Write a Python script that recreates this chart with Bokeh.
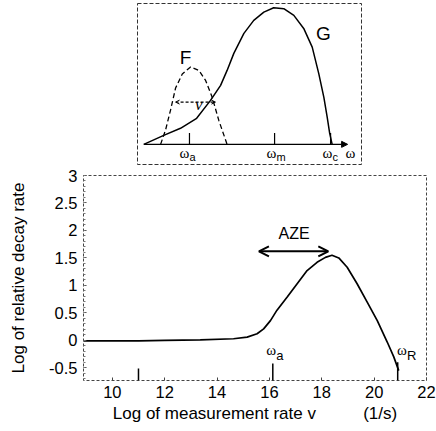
from bokeh.plotting import figure
from bokeh.models import Range1d, FixedTicker, Arrow, OpenHead, NormalHead
from bokeh.core.properties import value
from bokeh.embed import file_html
from bokeh.resources import INLINE

# ---------------- data: main plot ----------------
main_x = [8.9, 10.0, 11.0, 12.0, 13.36, 14.63, 15.15, 15.53, 15.78, 16.04, 16.29, 16.68,
          17.06, 17.44, 17.82, 18.14, 18.39, 18.65, 18.97, 19.35, 19.73, 20.12, 20.5, 20.75, 20.94]
main_y = [-0.01, -0.01, -0.01, 0.0, 0.01, 0.03, 0.06, 0.12, 0.21, 0.36, 0.55, 0.79,
          1.03, 1.27, 1.42, 1.51, 1.55, 1.5, 1.33, 1.03, 0.7, 0.36, -0.03, -0.3, -0.55]
x_ticks = [10, 12, 14, 16, 18, 20, 22]
y_ticks = [-0.5, 0, 0.5, 1, 1.5, 2, 2.5, 3]
y_tick_labels = ["-0.5", "0", "0.5", "1", "1.5", "2", "2.5", "3"]
mark_x = [11.0, 16.13, 20.9]
mark_top = [-0.51, -0.42, -0.4]
omega_main_x = [16.07, 21.06]
omega_main_y = [-0.18, -0.18]
omega_main_sub = ["a", "R"]
aze_x0, aze_x1, aze_y = 15.6, 18.25, 1.62
aze_label = "AZE"

# ---------------- data: inset ----------------
g_x = [0.28, 1.17, 1.92, 2.64, 3.26, 3.71, 4.0, 4.3, 4.75, 5.19, 5.64, 6.08, 6.53,
       6.98, 7.42, 7.8, 8.09, 8.32, 8.47, 8.58, 8.69]
g_y = [0.0, 0.064, 0.114, 0.185, 0.312, 0.419, 0.525, 0.646, 0.788, 0.88, 0.939, 0.97,
       0.963, 0.916, 0.823, 0.69, 0.504, 0.334, 0.192, 0.078, 0.0]
f_x = [1.03, 1.25, 1.47, 1.7, 2.0, 2.37, 2.74, 3.04, 3.33, 3.63, 4.0]
f_y = [0.0, 0.1, 0.24, 0.4, 0.5, 0.55, 0.525, 0.454, 0.336, 0.17, 0.0]
inset_tick_x = [2.32, 6.12, 8.62]
inset_omega_x = [2.1, 5.98, 8.48]
inset_omega_sub = ["a", "m", "c"]

SANS = "Liberation Sans"
SERIF = "Liberation Serif"

# ---------------- inset figure ----------------
ins = figure(width=436, height=165, x_range=Range1d(0, 10), y_range=Range1d(-0.143, 1.0),
             output_backend="svg", toolbar_location=None,
             x_axis_location=None, y_axis_location=None,
             min_border_left=137, min_border_right=75, min_border_top=3, min_border_bottom=1)
ins.grid.visible = False
ins.outline_line_color = "#333333"
ins.outline_line_dash = "4 2"
ins.outline_line_width = 1

ins.line(g_x, g_y, line_color="black", line_width=1.5)
ins.line(f_x, f_y, line_color="black", line_width=1.3, line_dash="5 3")
ins.add_layout(Arrow(end=NormalHead(size=6, fill_color="black", line_color="black"),
                     x_start=0.28, y_start=0.0, x_end=9.38, y_end=0.0,
                     line_color="black", line_width=1.2))
ins.segment(x0=inset_tick_x, y0=[0] * 3, x1=inset_tick_x, y1=[0.08] * 3,
            line_color="black", line_width=1.2)
ins.text(x=inset_omega_x + [9.51], y=[-0.064] * 4, text=["ω"] * 4,
         text_font=value(SERIF), text_font_size="15px", text_align="center",
         text_baseline="middle", text_color="black")
ins.text(x=inset_omega_x, y=[-0.064] * 3, text=inset_omega_sub, x_offset=5, y_offset=4,
         text_font=value(SANS), text_font_size="11px", text_align="left",
         text_baseline="middle", text_color="black")
ins.text(x=[2.14, 8.3], y=[0.62, 0.79], text=["F", "G"], text_font=value(SANS),
         text_font_size="19px", text_align="center", text_baseline="middle", text_color="black")
ins.add_layout(Arrow(start=OpenHead(size=4, line_width=1), end=OpenHead(size=4, line_width=1),
                     x_start=1.7, y_start=0.3, x_end=3.48, y_end=0.3,
                     line_color="black", line_width=1.3, line_dash="3 2"))
ins.text(x=[2.74], y=[0.28], text=["v"], text_font=value(SERIF), text_font_size="17px",
         text_font_style="italic", text_align="center", text_baseline="middle", text_color="black")

# ---------------- main figure ----------------
p = figure(width=436, height=266, x_range=Range1d(8.9, 22.0), y_range=Range1d(-0.73, 3.0),
           output_backend="svg", toolbar_location=None,
           min_border_left=83, min_border_right=10, min_border_top=10, min_border_bottom=51)
p.grid.visible = False
p.outline_line_color = "#444444"
p.outline_line_dash = "3 2"
p.outline_line_width = 1

p.line(main_x, main_y, line_color="black", line_width=1.7)
p.segment(x0=mark_x, y0=[-0.73] * 3, x1=mark_x, y1=mark_top, line_color="black", line_width=1.5)
p.text(x=omega_main_x, y=omega_main_y, text=["ω"] * 2, text_font=value(SERIF),
       text_font_size="15px", text_align="center", text_baseline="middle", text_color="black")
p.text(x=omega_main_x, y=omega_main_y, text=omega_main_sub, x_offset=5, y_offset=5,
       text_font=value(SANS), text_font_size="13px", text_align="left",
       text_baseline="middle", text_color="black")
p.add_layout(Arrow(start=OpenHead(size=10, line_width=2), end=OpenHead(size=10, line_width=2),
                   x_start=aze_x0, y_start=aze_y, x_end=aze_x1, y_end=aze_y,
                   line_color="black", line_width=2))
p.text(x=[(aze_x0 + aze_x1) / 2 + 0.02], y=[1.95], text=[aze_label], text_font=value(SANS),
       text_font_size="16px", text_align="center", text_baseline="middle", text_color="black")

for ax in (p.xaxis[0], p.yaxis[0]):
    ax.axis_line_color = None
    ax.major_tick_in = 3
    ax.major_tick_out = 0
    ax.minor_tick_in = 2
    ax.minor_tick_out = 0
    ax.major_tick_line_color = "#444444"
    ax.minor_tick_line_color = "#777777"
    ax.major_label_text_font = SANS
    ax.major_label_text_font_size = "16.5px"
    ax.major_label_text_color = "black"
    ax.axis_label_text_font = SANS
    ax.axis_label_text_font_size = "17px"
    ax.axis_label_text_font_style = "normal"
    ax.axis_label_text_color = "black"

p.xaxis.ticker = FixedTicker(ticks=x_ticks)
p.yaxis.ticker = FixedTicker(ticks=y_ticks, minor_ticks=[v / 10 for v in range(-7, 31)])
p.yaxis.major_label_overrides = {t: s for t, s in zip(y_ticks, y_tick_labels)}
p.xaxis.major_label_standoff = 5
p.yaxis.major_label_standoff = 6
p.yaxis.axis_label = "Log of relative decay rate"
p.xaxis.axis_label = "Log of measurement rate v" + "\u00a0" * 10 + "(1/s)"
p.yaxis.axis_label_standoff = 18
p.xaxis.axis_label_standoff = 3

open("out.html", "w").write(file_html([ins, p], INLINE))
